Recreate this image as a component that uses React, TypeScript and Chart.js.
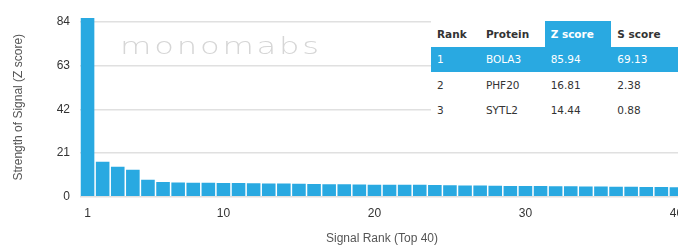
import React, { useEffect, useRef } from "react";
import { Chart, registerables } from "chart.js";

Chart.register(...registerables);

const ranks = [
  "1", "2", "3", "4", "5", "6", "7", "8", "9", "10",
  "11", "12", "13", "14", "15", "16", "17", "18", "19", "20",
  "21", "22", "23", "24", "25", "26", "27", "28", "29", "30",
  "31", "32", "33", "34", "35", "36", "37", "38", "39", "40",
];
const zScores = [
  85.94, 16.81, 14.44, 13.0, 8.1, 7.1, 6.8, 6.7, 6.7, 6.6,
  6.6, 6.5, 6.4, 6.3, 6.2, 6.1, 6.0, 6.0, 5.9, 5.8,
  5.8, 5.7, 5.7, 5.6, 5.5, 5.4, 5.4, 5.3, 5.2, 5.2,
  5.1, 5.0, 5.0, 4.9, 4.9, 4.8, 4.8, 4.7, 4.7, 4.6,
];
const yTickValues = [0, 21, 42, 63, 84];
const xTickLabels = ["1", "10", "20", "30", "40"];

const tableHeaders = ["Rank", "Protein", "Z score", "S score"];
const tableRanks = ["1", "2", "3"];
const tableProteins = ["BOLA3", "PHF20", "SYTL2"];
const tableZ = ["85.94", "16.81", "14.44"];
const tableS = ["69.13", "2.38", "0.88"];

const BLUE = "#29a9e1";
const AXIS_FONT = "'Liberation Sans', Arial, sans-serif";

export default function App() {
  const canvasRef = useRef<HTMLCanvasElement | null>(null);

  useEffect(() => {
    if (!canvasRef.current) return;
    const chart = new Chart(canvasRef.current, {
      type: "bar",
      data: {
        labels: ranks,
        datasets: [
          {
            data: zScores,
            backgroundColor: BLUE,
            borderWidth: 0,
            barPercentage: 0.9,
            categoryPercentage: 1,
          },
        ],
      },
      options: {
        animation: false,
        responsive: true,
        maintainAspectRatio: false,
        layout: { padding: { top: 17.8, right: 16, bottom: 0, left: 0 } },
        plugins: { legend: { display: false }, tooltip: { enabled: false } },
        scales: {
          x: {
            grid: { display: false, drawTicks: false },
            border: { display: false },
            ticks: {
              autoSkip: false,
              maxRotation: 0,
              padding: 10,
              color: "#333",
              font: { family: AXIS_FONT, size: 12 },
              callback: (_v: any, i: number) =>
                xTickLabels.includes(ranks[i]) ? ranks[i] : "",
            },
            title: {
              display: true,
              text: "Signal Rank (Top 40)",
              color: "#555",
              font: { family: AXIS_FONT, size: 12, lineHeight: 1 },
              padding: { top: 0, bottom: 0 },
            },
            afterFit: (s: any) => {
              s.height = 48.3;
            },
          },
          y: {
            min: 0,
            max: 86,
            afterBuildTicks: (s: any) => {
              s.ticks = yTickValues.map((v) => ({ value: v }));
            },
            grid: { color: "#e0e0e0", lineWidth: 1.5, drawTicks: false },
            border: { display: false },
            ticks: {
              padding: 10,
              color: "#333",
              font: { family: AXIS_FONT, size: 12 },
            },
            title: {
              display: true,
              text: "Strength of Signal (Z score)",
              color: "#555",
              font: { family: AXIS_FONT, size: 12 },
              padding: { top: 11, bottom: 0 },
            },
            afterFit: (s: any) => {
              s.width = 80;
            },
          },
        },
      },
    });
    return () => chart.destroy();
  }, []);

  const colWidths = [50, 67, 70, 70];
  const cellBase: React.CSSProperties = {
    padding: "0 0 0 6px",
    textAlign: "left",
    verticalAlign: "middle",
    whiteSpace: "nowrap",
  };

  return (
    <div
      style={{
        position: "fixed",
        left: 0,
        top: 0,
        width: 678,
        height: 245,
        overflow: "hidden",
        background: "#fff",
      }}
    >
      <div style={{ position: "absolute", left: 0, top: 0, width: 700, height: 245 }}>
        <canvas ref={canvasRef} />
      </div>
      <div
        style={{
          position: "absolute",
          left: 120,
          top: 33,
          fontFamily: "'DejaVu Sans', sans-serif",
          fontWeight: 200,
          fontSize: 23,
          lineHeight: "26px",
          letterSpacing: 2,
          color: "#d6d6d6",
          transform: "scaleX(1.4)",
          transformOrigin: "left top",
          whiteSpace: "nowrap",
        }}
      >
        monomabs
      </div>
      <table
        style={{
          position: "absolute",
          left: 431,
          top: 20.5,
          borderCollapse: "collapse",
          background: "#fff",
          fontFamily: "'DejaVu Sans', sans-serif",
          fontSize: 10.5,
          color: "#333",
          tableLayout: "fixed",
        }}
      >
        <tbody>
          <tr style={{ height: 26 }}>
            {tableHeaders.map((h, i) => (
              <th
                key={h}
                style={{
                  ...cellBase,
                  width: colWidths[i],
                  fontWeight: "bold",
                  background: i === 2 ? BLUE : "#fff",
                  color: i === 2 ? "#fff" : "#333",
                }}
              >
                {h}
              </th>
            ))}
          </tr>
          {tableRanks.map((r, j) => (
            <tr
              key={r}
              style={{
                height: 25.5,
                background: j === 0 ? BLUE : "#fff",
                color: j === 0 ? "#fff" : "#333",
              }}
            >
              <td style={cellBase}>{r}</td>
              <td style={cellBase}>{tableProteins[j]}</td>
              <td style={cellBase}>{tableZ[j]}</td>
              <td style={cellBase}>{tableS[j]}</td>
            </tr>
          ))}
        </tbody>
      </table>
    </div>
  );
}
